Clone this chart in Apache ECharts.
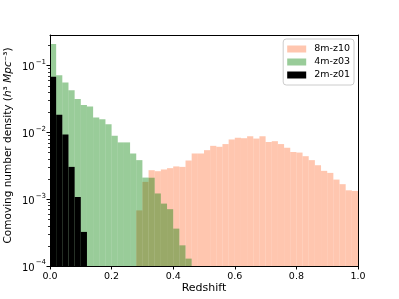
<!DOCTYPE html>
<html><head><meta charset="utf-8">
<script src="https://cdn.jsdelivr.net/npm/echarts@6/dist/echarts.min.js"></script>
<style>html,body{margin:0;padding:0;background:#fff}#c{width:399px;height:299px}</style>
</head><body><div id="c"></div>
<script>
// histogram bin starts (bin width 0.02)
const binStarts = [0.00,0.02,0.04,0.06,0.08,0.10,0.12,0.14,0.16,0.18,
  0.20,0.22,0.24,0.26,0.28,0.30,0.32,0.34,0.36,0.38,
  0.40,0.42,0.44,0.46,0.48,0.50,0.52,0.54,0.56,0.58,
  0.60,0.62,0.64,0.66,0.68,0.70,0.72,0.74,0.76,0.78,
  0.80,0.82,0.84,0.86,0.88,0.90,0.92,0.94,0.96,0.98];
const binWidth = 0.02;

// 8m-z10: first bin starts at 0.28
const z10Start = 0.28;
const z10 = [0.00068,0.00182,0.00272,0.00263,0.00279,0.00292,0.0031,0.00305,0.0038,0.00484,
  0.00484,0.00543,0.0063,0.0061,0.0067,0.00785,0.0083,0.0082,0.0088,0.0081,
  0.0088,0.0072,0.0074,0.0067,0.0059,0.0051,0.0050,0.00441,0.00385,0.00323,
  0.00266,0.00248,0.00197,0.00168,0.00136,0.00133];
// 4m-z03: first bin starts at 0.0
const z03Start = 0.0;
const z03 = [0.211,0.0716,0.056,0.0427,0.0316,0.0257,0.0245,0.0168,0.0157,0.0133,
  0.0089,0.0071,0.0071,0.00484,0.00385,0.00211,0.0021,0.00122,0.00086,0.00071,
  0.000363,0.000204,0.000129];
// 2m-z01: first bin starts at 0.0
const z01Start = 0.0;
const z01 = [0.068,0.0184,0.0093,0.00305,0.00108,0.000324];

const xTicks = [0.0,0.2,0.4,0.6,0.8,1.0];
const yMajor = [1e-4,1e-3,1e-2,1e-1];
const yMinor = [2e-4,3e-4,4e-4,5e-4,6e-4,7e-4,8e-4,9e-4,
  2e-3,3e-3,4e-3,5e-3,6e-3,7e-3,8e-3,9e-3,
  2e-2,3e-2,4e-2,5e-2,6e-2,7e-2,8e-2,9e-2,2e-1];
const yMin = 1e-4, yMax = 0.288;

function toBins(start, vals){
  return binStarts.map(b => {
    const i = Math.round((b - start)/binWidth);
    return (i >= 0 && i < vals.length) ? vals[i] : '-';
  });
}
function logLabel(v){
  const e = Math.round(Math.log10(v));
  if (Math.abs(Math.log10(v) - e) > 1e-6) return '';
  return '{b|10}{s|' + String(e).replace('-', '−') + '}';
}
const FONT = 'DejaVu Sans';
const cOrange = 'rgba(255,160,122,0.6)';
const cGreen = 'rgba(0,128,0,0.4)';
const cBlack = '#000000';

const chart = echarts.init(document.getElementById('c'), null, {renderer:'canvas'});
chart.setOption({
  animation: false,
  textStyle: {fontFamily: FONT},
  grid: {left: 50, right: 41, top: 35, bottom: 33, containLabel: false, outerBoundsMode: 'none'},
  legend: {
    data: ['8m-z10','4m-z03','2m-z01'],
    orient: 'vertical', right: 45, top: 39,
    icon: 'rect', itemWidth: 19, itemHeight: 7, itemGap: 3,
    backgroundColor: 'rgba(255,255,255,0.8)', borderColor: '#cccccc', borderWidth: 1, borderRadius: 3,
    padding: [5, 4, 5, 4],
    textStyle: {fontFamily: FONT, fontSize: 9.5, color: '#000', padding: [0,0,0,3]}
  },
  xAxis: [
    {type: 'category', data: binStarts, boundaryGap: true, show: false},
    {type: 'value', position: 'bottom', min: 0, max: 1, interval: 0.2, z: 5,
     axisLine: {show: true, lineStyle: {color: '#000', width: 1}},
     axisTick: {show: true, length: 3.5, lineStyle: {color: '#000', width: 1}},
     axisLabel: {fontFamily: FONT, fontSize: 9.5, color: '#000', margin: 5.5, formatter: v => v.toFixed(1)},
     splitLine: {show: false},
     name: 'Redshift', nameLocation: 'middle', nameGap: 17, nameMoveOverlap: false,
     nameTextStyle: {fontFamily: FONT, fontSize: 11, color: '#000'}},
    {type: 'value', position: 'top', min: 0, max: 1, z: 5,
     axisLine: {show: true, onZero: false, lineStyle: {color: '#000', width: 1}},
     axisTick: {show: false}, axisLabel: {show: false}, splitLine: {show: false}}
  ],
  yAxis: [
    {type: 'log', logBase: 10, min: yMin, max: yMax, startValue: yMin, position: 'left', z: 5,
     axisLine: {show: true, lineStyle: {color: '#000', width: 1}},
     axisTick: {show: true, length: 3.5, customValues: yMajor, lineStyle: {color: '#000', width: 1}},
     axisLabel: {fontFamily: FONT, color: '#000', margin: 4, customValues: yMajor, formatter: logLabel,
       rich: {
         b: {fontFamily: FONT, fontSize: 10, color: '#000', lineHeight: 14, verticalAlign: 'bottom'},
         s: {fontFamily: FONT, fontSize: 7, color: '#000', lineHeight: 14, verticalAlign: 'top', padding: [0,0,0,1]}
       }},
     splitLine: {show: false},
     name: 'Comoving number density ({i|h}³ {i|Mpc}⁻³)', nameLocation: 'middle', nameGap: 36, nameMoveOverlap: false,
     nameTextStyle: {fontFamily: FONT, fontSize: 10.5, color: '#000', padding: [0,0,0,10],
       rich: {i: {fontFamily: FONT, fontSize: 10.5, fontStyle: 'italic', color: '#000'}}}},
    {type: 'log', logBase: 10, min: yMin, max: yMax, position: 'left', z: 5,
     axisLine: {show: false},
     axisTick: {show: true, length: 2, customValues: yMinor, lineStyle: {color: '#000', width: 0.8}},
     axisLabel: {show: false}, splitLine: {show: false}},
    {type: 'log', logBase: 10, min: yMin, max: yMax, position: 'right', z: 5,
     axisLine: {show: true, lineStyle: {color: '#000', width: 1}},
     axisTick: {show: false}, axisLabel: {show: false}, splitLine: {show: false}}
  ],
  series: [
    {name: '8m-z10', type: 'bar', xAxisIndex: 0, yAxisIndex: 0, data: toBins(z10Start, z10),
     barWidth: '100%', barGap: '-100%', itemStyle: {color: cOrange}},
    {name: '4m-z03', type: 'bar', xAxisIndex: 0, yAxisIndex: 0, data: toBins(z03Start, z03),
     barWidth: '100%', barGap: '-100%', itemStyle: {color: cGreen}},
    {name: '2m-z01', type: 'bar', xAxisIndex: 0, yAxisIndex: 0, data: toBins(z01Start, z01),
     barWidth: '100%', barGap: '-100%', itemStyle: {color: cBlack}}
  ]
});
</script>
</body></html>
